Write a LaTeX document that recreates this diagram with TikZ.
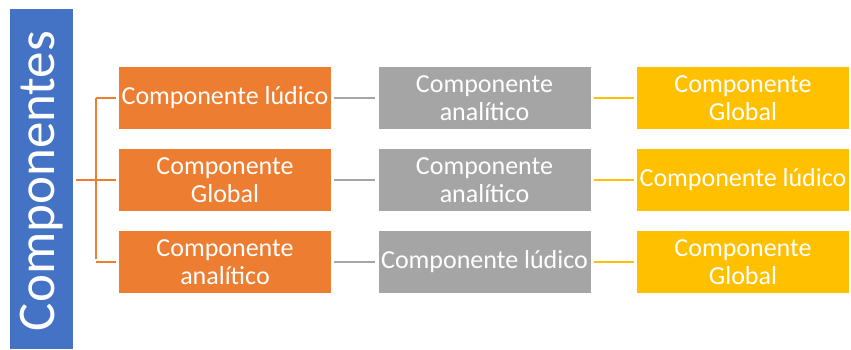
\documentclass[tikz,border=0pt]{standalone}
\usepackage{fontspec}
\setmainfont{Carlito}
\usetikzlibrary{positioning,calc}

\definecolor{accblue}{HTML}{4472C4}
\definecolor{accorange}{HTML}{ED7D31}
\definecolor{accgray}{HTML}{A5A5A5}
\definecolor{accgold}{HTML}{FFC000}

\begin{document}
\begin{tikzpicture}[
    x=1pt, y=1pt,
    box/.style={rectangle, minimum width=212pt, minimum height=62pt, inner sep=0pt, align=center, text=white, font=\fontsize{26}{28}\selectfont},
    lvlone/.style={fill=accorange},
    lvltwo/.style={fill=accgray},
    lvlthree/.style={fill=accgold},
    link/.style={line width=2pt, shorten <=3pt, shorten >=3pt}
]
\useasboundingbox (0,0) rectangle (851,349);

% Title bar
\node[rectangle, fill=accblue, minimum width=63pt, minimum height=340pt, inner sep=0pt] (comp) at (41.5,170) {};
\node[rotate=90, text=white, font=\fontsize{53}{60}\selectfont] (title) at (41.5,168) {Componentes};

% Three rows of components
\foreach \i/\y/\a/\b/\c in {
    1/251/Componente lúdico/Componente\\analítico/Componente\\Global,
    2/169/Componente\\Global/Componente\\analítico/Componente lúdico,
    3/87/Componente\\analítico/Componente lúdico/Componente\\Global} {
    \node[box, lvlone] (o\i) at (225,\y) {\a};
    \node[box, lvltwo] (g\i) at (484.5,\y) {\b};
    \node[box, lvlthree] (y\i) at (743,\y) {\c};
    \draw[link, accgray] (o\i) -- (g\i);
    \draw[link, accgold] (g\i) -- (y\i);
}

% Bracket from title bar to first column
\coordinate (hub) at ($(o2.west)+(-23pt,0)$);
\draw[link, accorange] (comp.east |- o2.west) -- (o2.west);
\draw[accorange, line width=2pt, shorten >=3pt] (hub |- o1.west) -- (hub |- o3.west);
\draw[accorange, line width=2pt, shorten >=3pt] (hub |- o1.west) -- (o1.west);
\draw[accorange, line width=2pt, shorten >=3pt] (hub |- o3.west) -- (o3.west);

\end{tikzpicture}
\end{document}
